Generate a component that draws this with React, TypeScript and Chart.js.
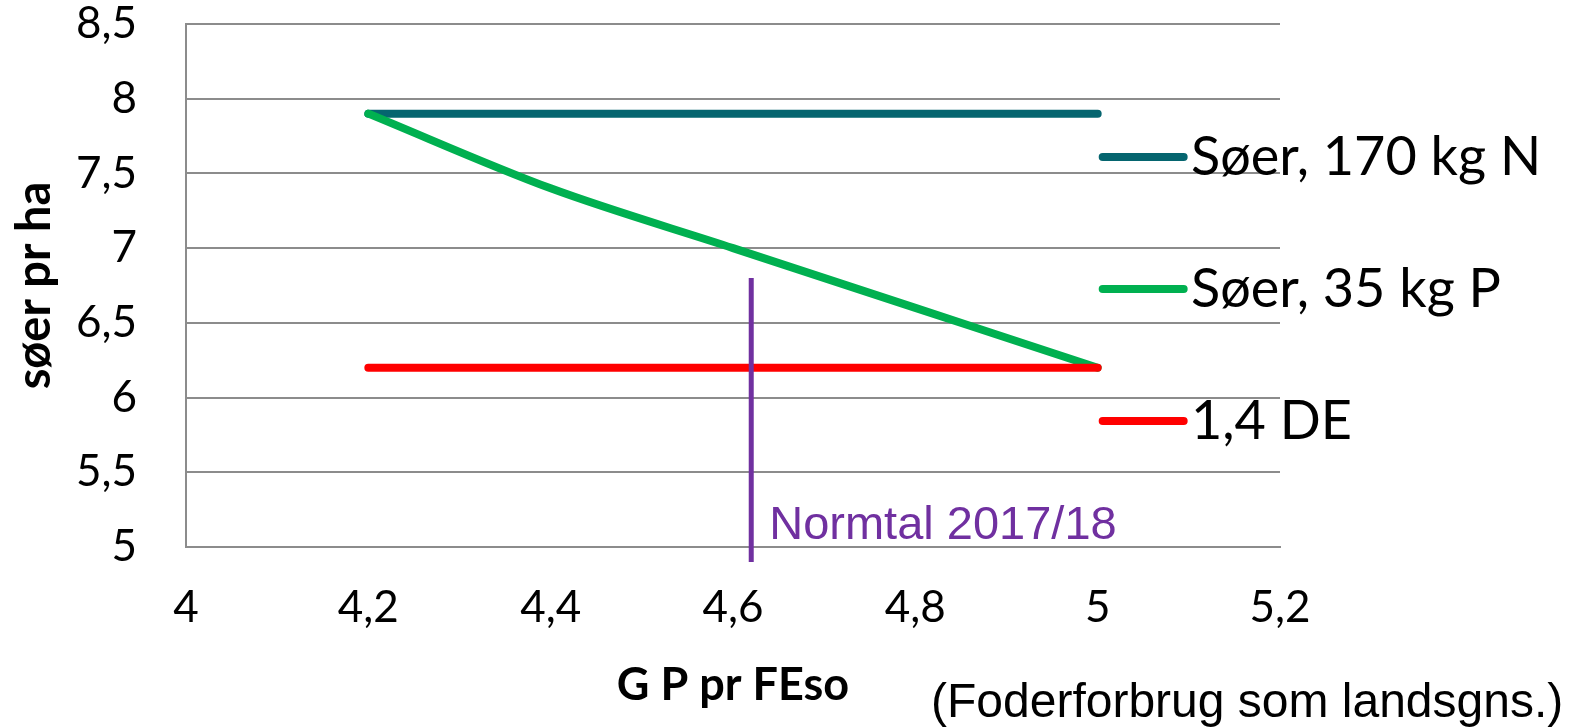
import React, { useEffect, useRef } from 'react';
import { Chart, registerables } from 'chart.js';

Chart.register(...registerables);

// ---- data ----
const xTickValues = [4, 4.2, 4.4, 4.6, 4.8, 5, 5.2];
const xTickLabels = ['4', '4,2', '4,4', '4,6', '4,8', '5', '5,2'];
const yTickValues = [5, 5.5, 6, 6.5, 7, 7.5, 8, 8.5];
const yTickLabels = ['5', '5,5', '6', '6,5', '7', '7,5', '8', '8,5'];

const seriesNames = ['Søer, 170 kg N', 'Søer, 35 kg P', '1,4 DE'];
const seriesColors = ['#05656F', '#00B050', '#FF0000'];

const nX = [4.2, 5.0];
const nY = [7.9, 7.9];
const pX = [4.2, 4.4, 4.6, 4.8, 5.0];
const pY = [7.9, 7.4, 7.0, 6.6, 6.2];
const deX = [4.2, 5.0];
const deY = [6.2, 6.2];

const normX = [4.62, 4.62];
const normY = [6.8, 4.9];
const normLabel = 'Normtal 2017/18';
const normColor = '#7030A0';

const xTitle = 'G P pr FEso';
const yTitle = 'søer pr ha';
const note = '(Foderforbrug som landsgns.)';

const gridColor = '#8C8C8C';

function pts(xs: number[], ys: number[]) {
  return xs.map((x, i) => ({ x, y: ys[i] }));
}

function labelFor(values: number[], labels: string[], v: number) {
  const i = values.findIndex((t) => Math.abs(t - v) < 1e-6);
  return i >= 0 ? labels[i] : '';
}

const overlayPlugin = {
  id: 'overlay',
  afterDatasetsDraw(chart: any) {
    const ctx = chart.ctx as CanvasRenderingContext2D;
    const xs = chart.scales.x;
    const ys = chart.scales.y;
    ctx.save();
    // legend
    const lx0 = xs.getPixelForValue(5) + 5;
    const lx1 = lx0 + 81;
    const rowY = [157, 289, 421];
    seriesNames.forEach((name, i) => {
      const y = rowY[i];
      ctx.beginPath();
      ctx.strokeStyle = seriesColors[i];
      ctx.lineWidth = 8;
      ctx.lineCap = 'round';
      ctx.moveTo(lx0, y);
      ctx.lineTo(lx1, y);
      ctx.stroke();
      ctx.fillStyle = '#000';
      ctx.font = '54px Lato';
      ctx.textAlign = 'left';
      ctx.textBaseline = 'alphabetic';
      ctx.fillText(name, 1191, y + 18);
    });
    // Normtal label
    ctx.fillStyle = normColor;
    ctx.font = '47px "Liberation Sans"';
    ctx.textAlign = 'left';
    ctx.textBaseline = 'alphabetic';
    ctx.fillText(normLabel, xs.getPixelForValue(normX[0]) + 18, ys.getPixelForValue(5) - 8);
    // note
    ctx.fillStyle = '#000';
    ctx.font = '48px "Liberation Sans"';
    ctx.fillText(note, 931, 717);
    ctx.restore();
  },
};

export default function App() {
  const ref = useRef<HTMLCanvasElement | null>(null);

  useEffect(() => {
    if (!ref.current) return;
    const chart = new Chart(ref.current, {
      type: 'line',
      data: {
        datasets: [
          {
            label: seriesNames[0],
            data: pts(nX, nY),
            borderColor: seriesColors[0],
            borderWidth: 8,
            borderCapStyle: 'round',
            pointRadius: 0,
            order: 3,
          },
          {
            label: seriesNames[1],
            data: pts(pX, pY),
            borderColor: seriesColors[1],
            borderWidth: 8,
            borderCapStyle: 'round',
            pointRadius: 0,
            cubicInterpolationMode: 'monotone',
            order: 2,
          },
          {
            label: seriesNames[2],
            data: pts(deX, deY),
            borderColor: seriesColors[2],
            borderWidth: 8,
            borderCapStyle: 'round',
            pointRadius: 0,
            order: 1,
          },
          {
            label: normLabel,
            data: pts(normX, normY),
            borderColor: normColor,
            borderWidth: 5,
            borderCapStyle: 'butt',
            pointRadius: 0,
            clip: false as any,
            order: 0,
          },
        ],
      },
      options: {
        animation: false,
        responsive: false,
        devicePixelRatio: 1,
        layout: { padding: { left: 0, top: 24, right: 296, bottom: 0 } },
        plugins: {
          legend: { display: false },
          tooltip: { enabled: false },
        },
        scales: {
          x: {
            type: 'linear',
            min: 4,
            max: 5.2,
            afterBuildTicks: (s: any) => {
              s.ticks = xTickValues.map((v) => ({ value: v }));
            },
            afterFit: (s: any) => {
              s.height = 181;
            },
            ticks: {
              callback: (v: any) => labelFor(xTickValues, xTickLabels, Number(v)),
              font: { family: 'Lato', size: 44, lineHeight: 1 },
              color: '#000',
              padding: 39,
              maxRotation: 0,
              autoSkip: false,
            },
            grid: { display: false, drawTicks: false },
            border: { display: true, color: gridColor, width: 2 },
            title: {
              display: true,
              text: xTitle,
              color: '#000',
              font: { family: 'Lato', weight: 'bold', size: 45, lineHeight: 1.2 },
              padding: { top: 0, bottom: 16 },
            },
          },
          y: {
            type: 'linear',
            min: 5,
            max: 8.5,
            afterBuildTicks: (s: any) => {
              s.ticks = yTickValues.map((v) => ({ value: v }));
            },
            afterFit: (s: any) => {
              s.width = 186;
            },
            ticks: {
              callback: (v: any) => labelFor(yTickValues, yTickLabels, Number(v)),
              font: { family: 'Lato', size: 44, lineHeight: 1 },
              color: '#000',
              padding: 0,
              autoSkip: false,
            },
            grid: {
              display: true,
              drawTicks: true,
              tickLength: 49,
              tickColor: 'rgba(0,0,0,0)',
              color: gridColor,
              lineWidth: 2,
            },
            border: { display: true, color: gridColor, width: 2 },
            title: {
              display: true,
              text: yTitle,
              color: '#000',
              font: { family: 'Lato', weight: 'bold', size: 47, lineHeight: 1.2 },
              padding: { top: 7, bottom: 0 },
            },
          },
        },
      },
      plugins: [overlayPlugin],
    });
    return () => chart.destroy();
  }, []);

  return (
    <div
      style={{
        position: 'fixed',
        left: 0,
        top: 0,
        width: 1576,
        height: 728,
        background: '#fff',
      }}
    >
      <canvas ref={ref} width={1576} height={728} style={{ display: 'block' }} />
    </div>
  );
}
